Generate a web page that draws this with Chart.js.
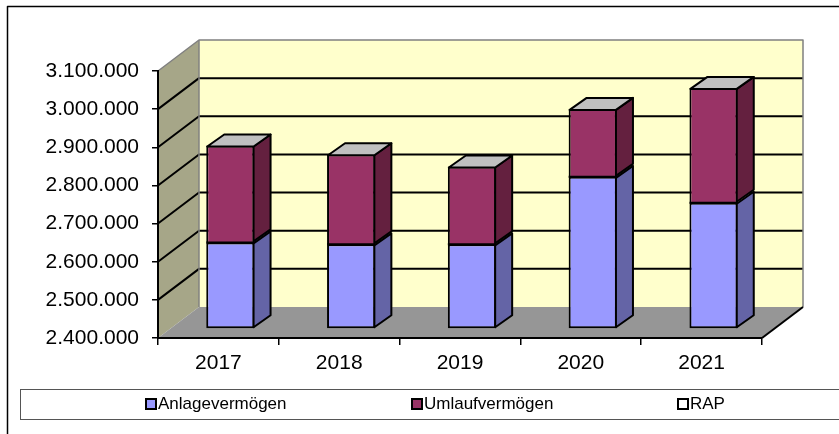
<!DOCTYPE html>
<html>
<head>
<meta charset="utf-8">
<script src="https://cdn.jsdelivr.net/npm/chart.js@4.4.1/dist/chart.umd.min.js"></script>
<style>
	html, body { margin: 0; padding: 0; background: #ffffff; }
	canvas { display: block; }
</style>
</head>
<body>
<canvas id="bilanz" width="839" height="434"></canvas>
<script>
// VARIABLES ================================================

const years = ["2017", "2018", "2019", "2020", "2021"];
const anlagevermoegen = [2627000, 2622000, 2622000, 2799000, 2731000];
const umlaufvermoegen = [254000, 236000, 204000, 178000, 301000];
const rap = [0, 0, 0, 0, 0];

const yMin = 2400000;
const yMax = 3100000;
const yStep = 100000;

// fake 3d: how far the back wall and the bars sit behind the axis plane
const wallDepth = { x: 41, y: -31 };
const barOffset = { x: 12, y: -9 };
const barDepth = { x: 17, y: -12 };

const fontFamily = "'Liberation Sans', Arial, sans-serif";

let bilanz = {
	initialise: undefined,
	polygon: undefined,
	walls: undefined,
	bars: undefined,
	legend: undefined,

	chart: undefined,
};

// FUNCTIONS ================================================

bilanz.polygon = function (ctx, points, fill, stroke, width) {
	ctx.beginPath();
	ctx.moveTo(points[0][0], points[0][1]);
	for (let i = 1; i < points.length; i++) ctx.lineTo(points[i][0], points[i][1]);
	ctx.closePath();
	if (fill) {
		ctx.fillStyle = fill;
		ctx.fill();
	}
	if (stroke) {
		ctx.strokeStyle = stroke;
		ctx.lineWidth = width;
		ctx.stroke();
	}
};

// back wall, side wall, floor and their grid lines
bilanz.walls = {
	id: "walls",
	beforeDraw: function (chart) {
		const ctx = chart.ctx;
		const a = chart.chartArea;
		const yScale = chart.scales.y;
		const dx = wallDepth.x;
		const dy = wallDepth.y;
		ctx.save();
		ctx.lineJoin = "round";

		// frame round the whole chart
		ctx.strokeStyle = "#000000";
		ctx.lineWidth = 1.5;
		ctx.beginPath();
		ctx.moveTo(7.5, 440);
		ctx.lineTo(7.5, 6.5);
		ctx.lineTo(845, 6.5);
		ctx.stroke();

		ctx.fillStyle = "#FFFFCC";
		ctx.fillRect(a.left + dx, a.top + dy, a.right - a.left, a.bottom - a.top);
		bilanz.polygon(ctx, [[a.left, a.top], [a.left + dx, a.top + dy], [a.left + dx, a.bottom + dy], [a.left, a.bottom]], "#A6A688");
		bilanz.polygon(ctx, [[a.left, a.bottom], [a.right, a.bottom], [a.right + dx, a.bottom + dy], [a.left + dx, a.bottom + dy]], "#969696");

		ctx.strokeStyle = "#000000";
		ctx.lineWidth = 2;
		for (let v = yMin + yStep; v < yMax; v += yStep) {
			const y = yScale.getPixelForValue(v);
			ctx.beginPath();
			ctx.moveTo(a.left, y);
			ctx.lineTo(a.left + dx, y + dy);
			ctx.lineTo(a.right + dx, y + dy);
			ctx.stroke();
		}

		// wall edges
		ctx.strokeStyle = "#808080";
		ctx.lineWidth = 1.5;
		ctx.beginPath();
		ctx.moveTo(a.left, a.top);
		ctx.lineTo(a.left + dx, a.top + dy);
		ctx.lineTo(a.right + dx, a.top + dy);
		ctx.lineTo(a.right + dx, a.bottom + dy);
		ctx.stroke();
		ctx.beginPath();
		ctx.moveTo(a.left + dx, a.top + dy);
		ctx.lineTo(a.left + dx, a.bottom + dy);
		ctx.stroke();

		ctx.strokeStyle = "#000000";
		ctx.lineWidth = 2;
		ctx.beginPath();
		ctx.moveTo(a.right, a.bottom);
		ctx.lineTo(a.right + dx, a.bottom + dy);
		ctx.stroke();
		ctx.restore();
	},
};

// bars are drawn a little behind the axis plane, then get sides and tops
bilanz.bars = {
	id: "bars3d",
	beforeDatasetsDraw: function (chart) {
		chart.ctx.save();
		chart.ctx.translate(barOffset.x, barOffset.y);
	},
	afterDatasetsDraw: function (chart) {
		const ctx = chart.ctx;
		const dx = barDepth.x;
		const dy = barDepth.y;
		ctx.lineJoin = "round";
		for (let i = 0; i < years.length; i++) {
			let topBar;
			for (let d = 0; d < chart.data.datasets.length; d++) {
				const el = chart.getDatasetMeta(d).data[i];
				if (!el || el.base - el.y < 0.5) continue;
				const l = el.x - el.width / 2;
				const r = el.x + el.width / 2 - 1;
				bilanz.polygon(ctx, [[r, el.y + 1], [r + dx, el.y + 1 + dy], [r + dx, el.base - 1 + dy], [r, el.base - 1]], chart.data.datasets[d].sideColor, "#000000", 2);
				// seam between two stacked segments
				if (topBar) {
					ctx.strokeStyle = "#000000";
					ctx.lineWidth = 2;
					ctx.beginPath();
					ctx.moveTo(l, el.base);
					ctx.lineTo(r + 1, el.base);
					ctx.stroke();
				}
				topBar = el;
			}
			if (topBar) {
				const l = topBar.x - topBar.width / 2 + 1;
				const r = topBar.x + topBar.width / 2 - 1;
				const y = topBar.y + 1;
				bilanz.polygon(ctx, [[l, y], [l + dx, y + dy], [r + dx, y + dy], [r, y]], "#C0C0C0", "#000000", 2);
			}
		}
		ctx.restore();
	},
};

bilanz.legend = {
	id: "boxLegend",
	afterDraw: function (chart) {
		const ctx = chart.ctx;
		ctx.save();
		ctx.strokeStyle = "#555555";
		ctx.lineWidth = 1;
		ctx.strokeRect(20.5, 389.5, 900, 30);
		ctx.font = "17px " + fontFamily;
		ctx.textBaseline = "middle";
		ctx.textAlign = "left";
		const datasets = chart.data.datasets;
		for (let i = 0; i < datasets.length; i++) {
			const x = 146 + i * 266;
			ctx.fillStyle = datasets[i].backgroundColor;
			ctx.fillRect(x, 399, 10, 10);
			ctx.strokeStyle = "#000000";
			ctx.lineWidth = 2;
			ctx.strokeRect(x, 399, 10, 10);
			ctx.fillStyle = "#000000";
			ctx.fillText(datasets[i].label, x + 12, 404);
		}
		ctx.restore();
	},
};

bilanz.initialise = function () {
	const data = {
		labels: years,
		datasets: [
			{ label: "Anlagevermögen", data: anlagevermoegen, base: yMin, backgroundColor: "#9999FF", sideColor: "#6464A6", borderColor: "#000000", borderWidth: 2, borderSkipped: false },
			{ label: "Umlaufvermögen", data: umlaufvermoegen, backgroundColor: "#993366", sideColor: "#64203F", borderColor: "#000000", borderWidth: 2, borderSkipped: "start" },
			{ label: "RAP", data: rap, backgroundColor: "#FFFFFF", sideColor: "#A6A6A6", borderColor: "#000000", borderWidth: 0 },
		],
	};
	const config = {
		type: "bar",
		data: data,
		plugins: [bilanz.walls, bilanz.bars, bilanz.legend],
		options: {
			responsive: false,
			animation: false,
			devicePixelRatio: 1,
			barPercentage: 0.4,
			categoryPercentage: 1,
			layout: { padding: { left: 0, right: 77, top: 71, bottom: 0 } },
			plugins: { legend: { display: false }, tooltip: { enabled: false } },
			datasets: { bar: { clip: false } },
			scales: {
				x: {
					stacked: true,
					grid: { drawOnChartArea: false, color: "#000000", lineWidth: 1.5, tickLength: 7 },
					border: { color: "#000000", width: 2 },
					ticks: { color: "#000000", font: { family: fontFamily, size: 21 }, padding: 6 },
					afterFit: function (scale) {
						scale.height = 96;
					},
				},
				y: {
					stacked: true,
					min: yMin,
					max: yMax,
					grid: { drawOnChartArea: false, color: "#000000", lineWidth: 1.5, tickLength: 6 },
					border: { color: "#000000", width: 2 },
					ticks: {
						stepSize: yStep,
						color: "#000000",
						font: { family: fontFamily, size: 21 },
						padding: 13,
						callback: function (value) {
							return value.toLocaleString("de-DE");
						},
					},
					afterFit: function (scale) {
						scale.width = 158;
					},
				},
			},
		},
	};
	bilanz.chart = new Chart(document.getElementById("bilanz"), config);
};

bilanz.initialise();

// END ======================================================
</script>
</body>
</html>
